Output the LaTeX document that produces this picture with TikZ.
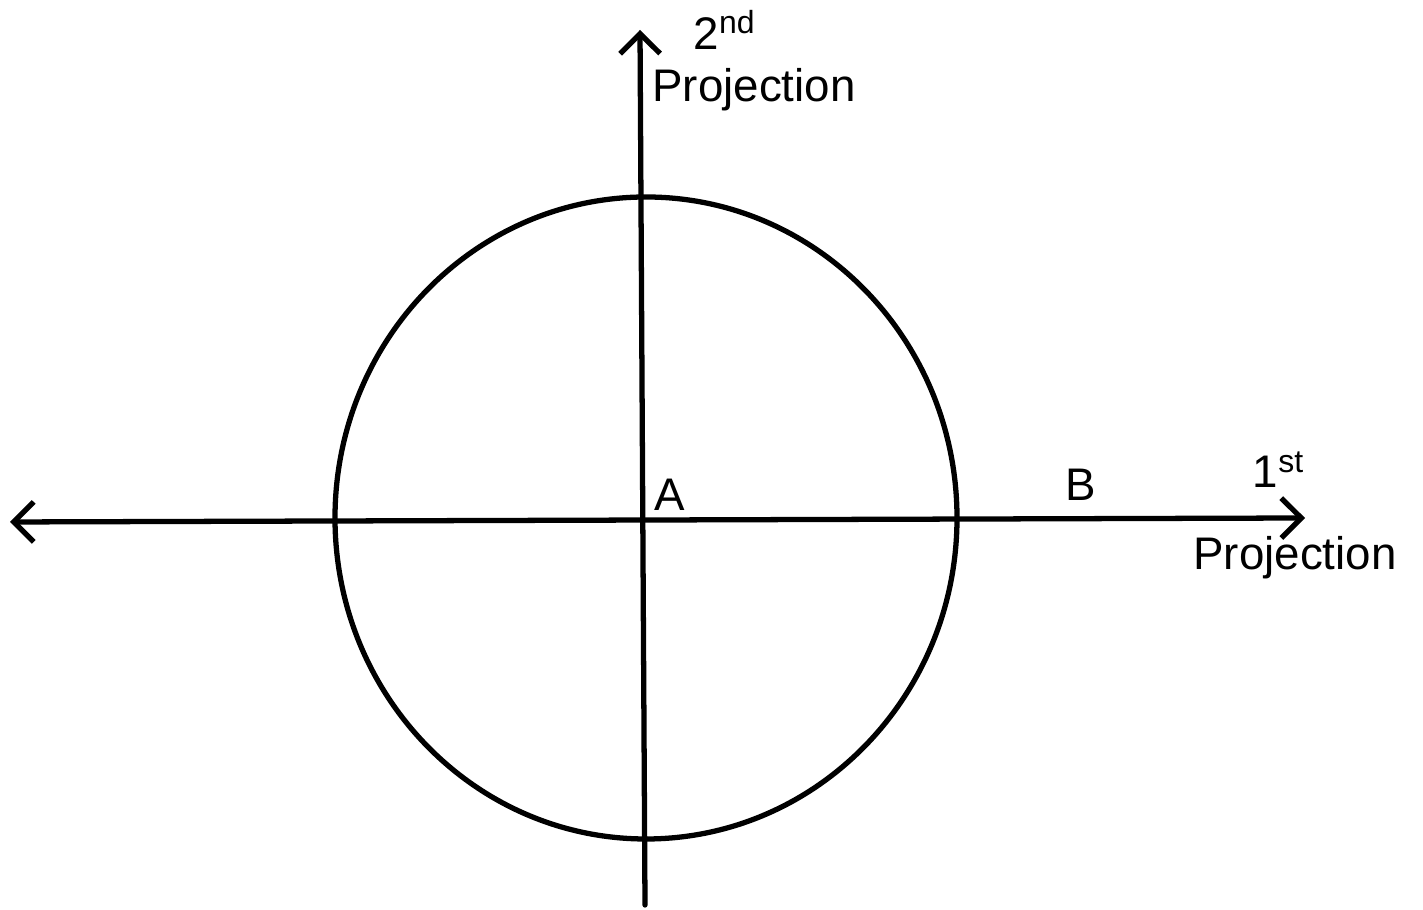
\documentclass[tikz,border=0pt]{standalone}
\usepackage{fontspec}
\setmainfont{Liberation Sans}
\usetikzlibrary{positioning,arrows.meta}

\begin{document}
\begin{tikzpicture}[
  axis/.style={line width=1.5pt, line cap=round, {Straight Barb[length=2mm,width=4mm,line width=1.5pt]}-{Straight Barb[length=2mm,width=4mm,line width=1.5pt]}},
  upaxis/.style={line width=1.5pt, line cap=round, -{Straight Barb[length=2mm,width=4mm,line width=1.5pt]}},
  lbl/.style={font=\fontsize{13}{15}\selectfont, inner sep=0pt}
]
\useasboundingbox (0,0) rectangle (14.23,9.10);

% axis ends
\coordinate (west) at (0.10,3.88);
\coordinate (east) at (13.05,3.92);
\coordinate (south) at (6.45,0.05);
\coordinate (north) at (6.40,8.80);

% circle
\draw[line width=1.5pt] (6.46,3.92) ellipse [x radius=3.11, y radius=3.21];

% axes
\draw[axis] (west) -- (east);
\draw[upaxis] (south) -- (north);

% labels
\node[lbl] (ndtop) at (7.25,8.80) {2\textsuperscript{nd}};
\node[lbl] (projtop) at (7.54,8.20) {Projection};
\node[lbl] (sttop) at (12.79,4.40) {1\textsuperscript{st}};
\node[lbl] (projright) at (12.95,3.52) {Projection};
\node[lbl] (ptA) at (6.70,4.15) {A};
\node[lbl] (ptB) at (10.81,4.25) {B};
\end{tikzpicture}
\end{document}
